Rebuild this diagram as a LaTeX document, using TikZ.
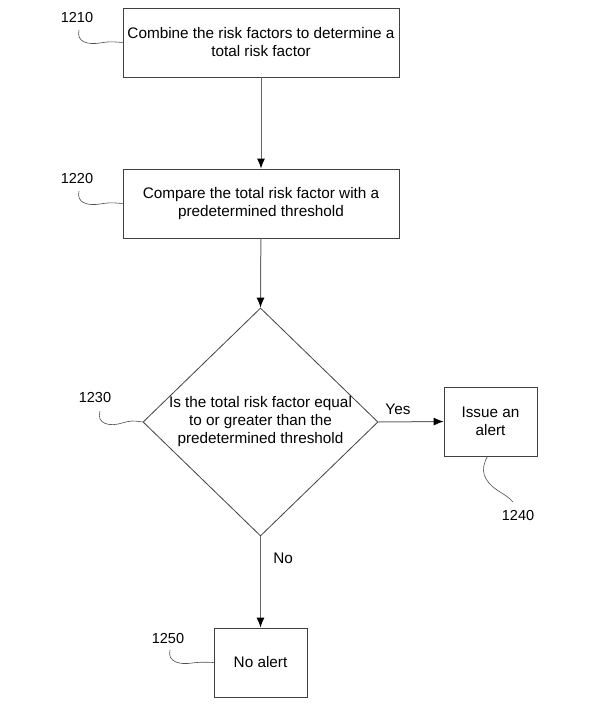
\documentclass[tikz,border=0pt]{standalone}
\usepackage{fontspec}
\setmainfont{Liberation Sans}
\usetikzlibrary{shapes.geometric,arrows.meta}
\begin{document}
\begin{tikzpicture}[x=1pt,y=-1pt,
  every node/.style={font=\fontsize{15.3}{18}\selectfont},
  stepbox/.style={draw=black!75,line width=0.8pt,rectangle,inner sep=0pt,align=center},
  decision/.style={draw=black!75,line width=0.8pt,diamond,inner sep=0pt,minimum width=235pt,minimum height=228pt},
  flow/.style={draw=black!60,line width=1pt,-{Latex[length=10pt,width=8pt,black]}},
  lead/.style={draw=black!70,line width=0.6pt},
  num/.style={inner sep=0pt,font=\fontsize{14.5}{17}\selectfont}]
\useasboundingbox (0,0) rectangle (592,709);
\node[stepbox,minimum width=276pt,minimum height=69pt] (b1) at (261,42.5) {Combine the risk factors to determine a\\total risk factor};
\node[stepbox,minimum width=276pt,minimum height=69pt] (b2) at (261,203.5) {Compare the total risk factor with a\\predetermined threshold};
\node[decision] (d) at (260.5,422) {};
\node[align=center,inner sep=0pt] (dt) at (d.center) {Is the total risk factor equal\\to or greater than the\\predetermined threshold};
\node[stepbox,minimum width=93pt,minimum height=69pt] (b4) at (490.5,421.5) {Issue an\\alert};
\node[stepbox,minimum width=93pt,minimum height=69pt] (b5) at (260.5,662.5) {No alert};
\draw[flow] (b1) -- (b2);
\draw[flow] (b2) -- (d.north);
\draw[flow] (d.east) -- node[above,pos=0.3,yshift=3pt] (yes) {Yes} (b4.west);
\draw[flow] (d.south) -- node[right,pos=0.24,xshift=9pt] (no) {No} (b5.north);
\node[num] (n1) at (77,18) {1210};
\node[num] (n2) at (77,179) {1220};
\node[num] (n3) at (95,398) {1230};
\node[num] (n4) at (518,516) {1240};
\node[num] (n5) at (168,638) {1250};
\coordinate (c1) at (79,30);
\coordinate (c2) at (79,191);
\coordinate (c3) at (100,411);
\coordinate (c4) at (513,502);
\coordinate (c5) at (170,650);
\draw[lead] (c1) .. controls (76,42) and (88,45) .. (100,43) .. controls (110,41.5) .. (b1.west);
\draw[lead] (c2) .. controls (76,203) and (88,206) .. (100,204) .. controls (110,202.5) .. (b2.west);
\draw[lead] (c3) .. controls (96,424) and (110,427) .. (122,423) .. controls (132,420.5) .. (d.west);
\draw[lead] (b4.south) ++(-3,0) coordinate (c4s) .. controls (480,470) and (483,480) .. (497,490) .. controls (508,497) .. (c4);
\draw[lead] (c5) .. controls (167,662) and (180,665) .. (192,663) .. controls (202,662) .. (b5.west);
\end{tikzpicture}
\end{document}
